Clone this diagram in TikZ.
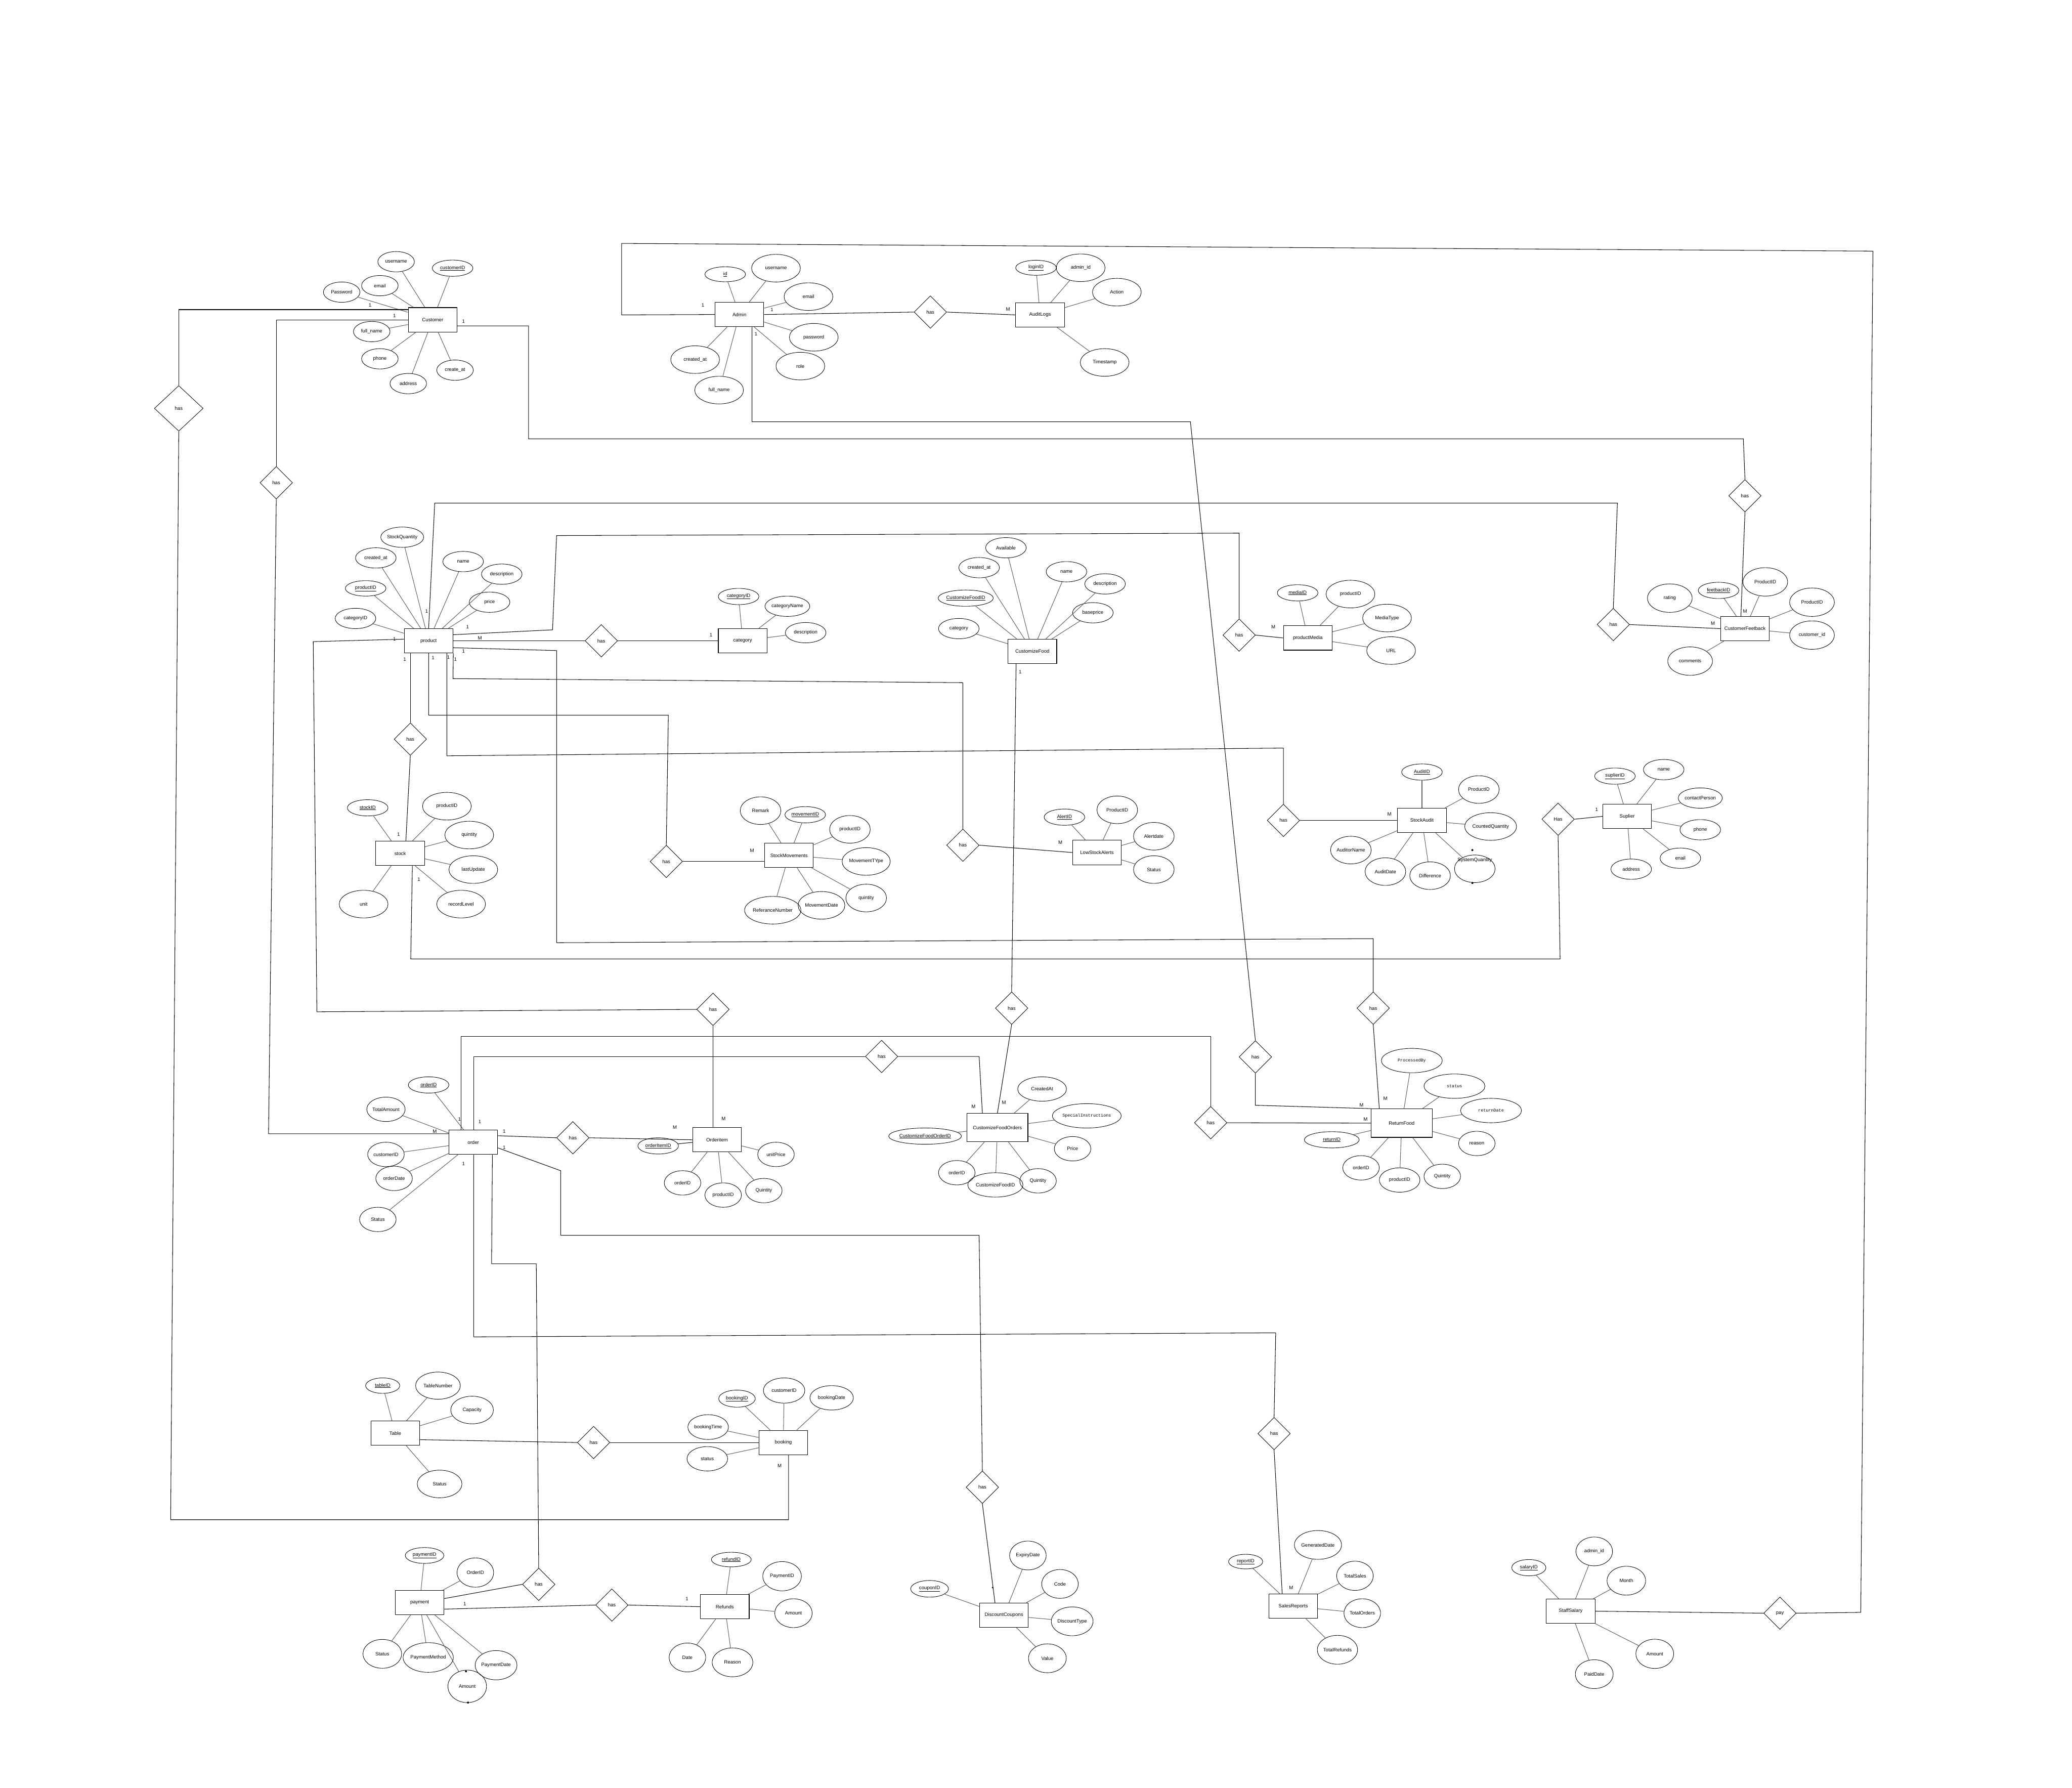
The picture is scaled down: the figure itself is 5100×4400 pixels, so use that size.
\documentclass[tikz,border=0pt]{standalone}
\usepackage{fontspec}
\setmainfont{Liberation Sans}
\newfontfamily\ermonofam{Liberation Mono}
\usetikzlibrary{shapes.geometric}
\newcommand{\erfont}{\fontsize{12}{14}\selectfont}
\newcommand{\ermono}{\ermonofam\fontsize{10.5}{12}\selectfont}

\begin{document}
\begin{tikzpicture}[x=1pt, y=-1pt,
  ent/.style={rectangle, draw, line width=1.4pt, minimum width=120pt, minimum height=60pt,
              inner sep=0pt, font=\erfont},
  att/.style={ellipse, draw, line width=1.1pt, minimum width=90pt, minimum height=50pt,
              inner sep=0pt, font=\erfont},
  key/.style={att, minimum width=100pt, minimum height=40pt},
  mid/.style={att, minimum width=100pt, minimum height=50pt},
  big/.style={att, minimum width=120pt, minimum height=68pt},
  tall/.style={att, minimum width=100pt, minimum height=68pt},
  rnd/.style={att, minimum width=90pt, minimum height=60pt},
  mono/.style={att, minimum width=150pt, minimum height=60pt, font=\ermono},
  rel/.style={diamond, draw, line width=1.1pt, minimum width=80pt, minimum height=80pt,
              inner sep=0pt, font=\erfont},
  lk/.style={-, line width=1.3pt, gray!75!black},
  cn/.style={-, line width=1.3pt, black},
  card/.style={inner sep=0pt, font=\erfont}]

\fill[white] (0,0) rectangle (5100,4400);
\useasboundingbox (0,0) rectangle (5100,4400);

%% Customer
\node[ent] (cust) at (1065,787) {Customer};
\node[att] (cuUser)  at (975,644)  {username};
\node[key] (cuId)    at (1114,660) {\underline{customerID}};
\node[att] (cuMail)  at (935,703)  {email};
\node[att] (cuPass)  at (841,719)  {Password};
\node[att] (cuName)  at (915,816)  {full\_name};
\node[att] (cuPhone) at (935,883)  {phone};
\node[att] (cuAddr)  at (1005,944) {address};
\node[att] (cuCre)   at (1120,911) {create\_at};
\draw[lk] (cuUser)--(cust); \draw[lk] (cuId)--(cust); \draw[lk] (cuMail)--(cust);
\draw[lk] (cuPass)--(cust); \draw[lk] (cuName)--(cust); \draw[lk] (cuPhone)--(cust);
\draw[lk] (cuAddr)--(cust); \draw[lk] (cuCre)--(cust);

%% Admin
\node[ent] (admin) at (1820,774) {Admin};
\node[key, minimum height=37pt] (adId) at (1785,675) {\underline{id}};
\node[big] (adUser) at (1910,660) {username};
\node[big] (adMail) at (1990,730) {email};
\node[big] (adPass) at (2003,830) {password};
\node[big] (adRole) at (1970,901) {role};
\node[big] (adCre)  at (1711,885) {created\_at};
\node[big] (adName) at (1770,960) {full\_name};
\draw[lk] (adId)--(admin); \draw[lk] (adUser)--(admin); \draw[lk] (adMail)--(admin);
\draw[lk] (adPass)--(admin); \draw[lk] (adRole)--(admin); \draw[lk] (adCre)--(admin);
\draw[lk] (adName)--(admin);

%% AuditLogs
\node[ent] (audit) at (2560,775) {AuditLogs};
\node[key, minimum height=37pt] (auId) at (2550,659) {\underline{loginID}};
\node[big] (auAdm)  at (2660,659) {admin\_id};
\node[big] (auAct)  at (2749,719) {Action};
\node[big] (auTime) at (2719,892) {Timestamp};
\draw[lk] (auId)--(audit); \draw[lk] (auAdm)--(audit); \draw[lk] (auAct)--(audit);
\draw[lk] (auTime)--(audit);

%% product
\node[ent] (prod) at (1055,1577) {product};
\node[mid] (prQty)   at (990,1322)  {StockQuantity};
\node[mid] (prCre)   at (925,1373)  {created\_at};
\node[mid] (prName)  at (1140,1382) {name};
\node[mid] (prDesc)  at (1235,1413) {description};
\node[key, minimum height=38pt] (prId) at (900,1448) {\underline{productID}};
\node[mid] (prPrice) at (1205,1482) {price};
\node[mid] (prCat)   at (875,1522)  {categoryID};
\draw[lk] (prQty)--(prod); \draw[lk] (prCre)--(prod); \draw[lk] (prName)--(prod);
\draw[lk] (prDesc)--(prod); \draw[lk] (prId)--(prod); \draw[lk] (prPrice)--(prod);
\draw[lk] (prCat)--(prod);

%% category
\node[ent] (cat) at (1828,1577) {category};
\node[key] (caId)   at (1818,1468) {\underline{categoryID}};
\node[mid] (caName) at (1938,1492) {categoryName};
\node[mid] (caDesc) at (1983,1557) {description};
\draw[lk] (caId)--(cat); \draw[lk] (caName)--(cat); \draw[lk] (caDesc)--(cat);

%% CustomizeFood
\node[ent] (cfood) at (2541,1603) {CustomizeFood};
\node[mid] (cfAvail) at (2476,1348) {Available};
\node[mid] (cfCre)   at (2410,1397) {created\_at};
\node[mid] (cfName)  at (2625,1407) {name};
\node[mid] (cfDesc)  at (2720,1437) {description};
\node[key, minimum width=116pt] (cfId) at (2377,1472) {\underline{CustomizeFoodID}};
\node[mid] (cfPrice) at (2690,1508) {baseprice};
\node[mid] (cfCat)   at (2360,1547) {category};
\draw[lk] (cfAvail)--(cfood); \draw[lk] (cfCre)--(cfood); \draw[lk] (cfName)--(cfood);
\draw[lk] (cfDesc)--(cfood); \draw[lk] (cfId)--(cfood); \draw[lk] (cfPrice)--(cfood);
\draw[lk] (cfCat)--(cfood);

%% productMedia
\node[ent] (media) at (3219,1570) {productMedia};
\node[key] (meId)   at (3194,1459) {\underline{mediaID}};
\node[big] (mePid)  at (3324,1462) {productID};
\node[big] (meType) at (3414,1521) {MediaType};
\node[big] (meUrl)  at (3424,1601) {URL};
\draw[lk] (meId)--(media); \draw[lk] (mePid)--(media); \draw[lk] (meType)--(media);
\draw[lk] (meUrl)--(media);

%% CustomerFeetback
\node[ent] (fback) at (4295,1547) {CustomerFeetback};
\node[att, minimum width=110pt, minimum height=70pt] (fbRate) at (4110,1472) {rating};
\node[key] (fbId) at (4230,1453) {\underline{feetbackID}};
\node[att, minimum width=110pt, minimum height=70pt] (fbPid)  at (4345,1432) {ProductID};
\node[att, minimum width=110pt, minimum height=70pt] (fbPidb) at (4460,1482) {ProductID};
\node[att, minimum width=110pt, minimum height=70pt] (fbCust) at (4460,1563) {customer\_id};
\node[att, minimum width=110pt, minimum height=70pt] (fbCom)  at (4160,1627) {comments};
\draw[lk] (fbRate)--(fback); \draw[lk] (fbId)--(fback); \draw[lk] (fbPid)--(fback);
\draw[lk] (fbPidb)--(fback); \draw[lk] (fbCust)--(fback); \draw[lk] (fbCom)--(fback);

%% stock
\node[ent] (stock) at (985,2100) {stock};
\node[key] (stId)  at (905,1988)  {\underline{stockID}};
\node[big] (stPid) at (1100,1984) {productID};
\node[big] (stQty) at (1155,2055) {quintity};
\node[big] (stUpd) at (1165,2140) {lastUpdate};
\node[big] (stRec) at (1135,2225) {recordLevel};
\node[big] (stUnit) at (895,2225) {unit};
\draw[lk] (stId)--(stock); \draw[lk] (stPid)--(stock); \draw[lk] (stQty)--(stock);
\draw[lk] (stUpd)--(stock); \draw[lk] (stRec)--(stock); \draw[lk] (stUnit)--(stock);

%% StockMovements
\node[ent] (smove) at (1942,2105) {StockMovements};
\node[tall] (smRem)  at (1872,1995) {Remark};
\node[key]  (smId)   at (1982,2005) {\underline{movementID}};
\node[tall] (smPid)  at (2092,2041) {productID};
\node[tall] (smType) at (2132,2120) {MovementTYpe};
\node[tall] (smQty)  at (2132,2210) {quintity};
\node[tall] (smDate) at (2022,2228) {MovementDate};
\node[big]  (smRef)  at (1902,2240) {ReferanceNumber};
\draw[lk] (smRem)--(smove); \draw[lk] (smId)--(smove); \draw[lk] (smPid)--(smove);
\draw[lk] (smType)--(smove); \draw[lk] (smQty)--(smove); \draw[lk] (smDate)--(smove);
\draw[lk] (smRef)--(smove);

%% LowStockAlerts
\node[ent] (lowst) at (2700,2098) {LowStockAlerts};
\node[key]  (lsId)   at (2620,2011) {\underline{AlertID}};
\node[tall] (lsPid)  at (2750,1993) {ProductID};
\node[tall] (lsDate) at (2840,2058) {Alertdate};
\node[tall] (lsStat) at (2840,2140) {Status};
\draw[lk] (lsId)--(lowst); \draw[lk] (lsPid)--(lowst); \draw[lk] (lsDate)--(lowst);
\draw[lk] (lsStat)--(lowst);

%% StockAudit
\node[ent] (saudit) at (3500,2019) {StockAudit};
\node[key]  (sdId)   at (3500,1900) {\underline{AuditID}};
\node[tall] (sdPid)  at (3640,1943) {ProductID};
\node[tall] (sdCnt)  at (3669,2034) {CountedQuantity};
\node[tall, label={[font=\erfont, yshift=21pt]center:SystemQuantity}] (sdSys) at (3630,2138) {};
\node[tall] (sdDiff) at (3520,2155) {Difference};
\node[tall] (sdDate) at (3410,2145) {AuditDate};
\node[tall] (sdName) at (3325,2092) {AuditorName};
\fill (3624,2092) circle[radius=2.5pt] (3624,2173) circle[radius=2.5pt];
\draw[lk] (sdId)--(saudit); \draw[lk] (sdPid)--(saudit); \draw[lk] (sdCnt)--(saudit);
\draw[lk] (sdSys)--(saudit); \draw[lk] (sdDiff)--(saudit); \draw[lk] (sdDate)--(saudit);
\draw[lk] (sdName)--(saudit);

%% Suplier
\node[ent] (supl) at (4005,2009) {Suplier};
\node[key] (suId)    at (3975,1910) {\underline{suplierID}};
\node[mid] (suName)  at (4095,1894) {name};
\node[mid] (suCont)  at (4185,1964) {contactPerson};
\node[mid] (suPhone) at (4185,2042) {phone};
\node[mid] (suMail)  at (4136,2112) {enail};
\node[mid] (suAddr)  at (4015,2139) {address};
\draw[lk] (suId)--(supl); \draw[lk] (suName)--(supl); \draw[lk] (suCont)--(supl);
\draw[lk] (suPhone)--(supl); \draw[lk] (suMail)--(supl); \draw[lk] (suAddr)--(supl);

%% order
\node[ent] (ord) at (1165,2811) {order};
\node[key] (orId)   at (1055,2670) {\underline{orderID}};
\node[rnd] (orTot)  at (950,2730)  {TotalAmount};
\node[rnd] (orCust) at (950,2841)  {customerID};
\node[rnd] (orDate) at (970,2900)  {orderDate};
\node[rnd] (orStat) at (930,3001)  {Status};
\draw[lk] (orId)--(ord); \draw[lk] (orTot)--(ord); \draw[lk] (orCust)--(ord);
\draw[lk] (orDate)--(ord); \draw[lk] (orStat)--(ord);

%% Orderitem
\node[ent] (oitem) at (1765,2805) {Orderitem};
\node[key] (oiId)    at (1620,2820) {\underline{orderItemID}};
\node[rnd] (oiPrice) at (1910,2841) {unitPrice};
\node[rnd] (oiOid)   at (1680,2911) {orderID};
\node[rnd] (oiPid)   at (1780,2941) {productID};
\node[rnd] (oiQty)   at (1880,2930) {Quintity};
\draw[cn] (oiId)--(oitem); \draw[lk] (oiPrice)--(oitem); \draw[lk] (oiOid)--(oitem);
\draw[lk] (oiPid)--(oitem); \draw[lk] (oiQty)--(oitem);

%% CustomizeFoodOrders
\node[ent, minimum width=150pt, minimum height=70pt] (cfo) at (2455,2775) {CustomizeFoodOrders};
\node[att, minimum width=120pt, minimum height=60pt] (coCre) at (2565,2680) {CreatedAt};
\node[mono] (coSpec)  at (2675,2746) {SpecialInstructions};
\node[rnd]  (coPrice) at (2640,2827) {Price};
\node[rnd]  (coQty)   at (2555,2906) {Quintity};
\node[att, minimum width=100pt, minimum height=60pt] (coCf) at (2450,2916) {CustomizeFoodID};
\node[rnd]  (coOid)   at (2355,2886) {orderID};
\node[key, minimum width=133pt] (coId) at (2277,2796) {\underline{CustomizeFoodOrderID}};
\draw[lk] (coCre)--(cfo); \draw[lk] (coSpec)--(cfo); \draw[lk] (coPrice)--(cfo);
\draw[lk] (coQty)--(cfo); \draw[lk] (coCf)--(cfo); \draw[lk] (coOid)--(cfo);
\draw[lk] (coId)--(cfo);

%% ReturnFood
\node[ent, minimum width=150pt, minimum height=70pt] (retf) at (3450,2764) {ReturnFood};
\node[mono] (rfProc) at (3475,2610) {ProcessedBy};
\node[mono] (rfStat) at (3580,2673) {status};
\node[mono] (rfDate) at (3670,2733) {returnDate};
\node[rnd]  (rfReas) at (3635,2814) {reason};
\node[rnd]  (rfQty)  at (3550,2895) {Quintity};
\node[att, minimum width=100pt, minimum height=60pt] (rfPid) at (3445,2904) {productID};
\node[rnd]  (rfOid)  at (3350,2874) {orderID};
\node[key, minimum width=135pt] (rfId) at (3278,2805) {\underline{returnID}};
\draw[lk] (rfProc)--(retf); \draw[lk] (rfStat)--(retf); \draw[lk] (rfDate)--(retf);
\draw[lk] (rfReas)--(retf); \draw[lk] (rfQty)--(retf); \draw[lk] (rfPid)--(retf);
\draw[lk] (rfOid)--(retf); \draw[lk] (rfId)--(retf);

%% Table
\node[ent] (tbl) at (973,3527) {Table};
\node[key, minimum width=84pt, minimum height=38pt] (tbId) at (942,3410) {\underline{tableID}};
\node[att, minimum width=110pt, minimum height=67pt] (tbNum)  at (1078,3410) {TableNumber};
\node[att, minimum width=105pt, minimum height=68pt] (tbCap)  at (1162,3470) {Capacity};
\node[att, minimum width=110pt, minimum height=68pt] (tbStat) at (1082,3652) {Status};
\draw[lk] (tbId)--(tbl); \draw[lk] (tbNum)--(tbl); \draw[lk] (tbCap)--(tbl);
\draw[lk] (tbStat)--(tbl);

%% booking
\node[ent] (book) at (1928,3550) {booking};
\node[key, minimum width=90pt, minimum height=42pt] (bkId) at (1814,3442) {\underline{bookingID}};
\node[att, minimum width=102pt, minimum height=62pt] (bkCust) at (1930,3422) {customerID};
\node[att, minimum width=107pt, minimum height=60pt] (bkDate) at (2047,3440) {bookingDate};
\node[att, minimum width=100pt, minimum height=61pt] (bkTime) at (1743,3512) {bookingTime};
\node[att, minimum width=100pt, minimum height=60pt] (bkStat) at (1741,3590) {status};
\draw[lk] (bkId)--(book); \draw[lk] (bkCust)--(book); \draw[lk] (bkDate)--(book);
\draw[lk] (bkTime)--(book); \draw[lk] (bkStat)--(book);

%% payment
\node[ent] (paym) at (1033,3944) {payment};
\node[key, minimum width=95pt, minimum height=39pt] (pmId) at (1045,3828) {\underline{paymentID}};
\node[att, minimum width=90pt, minimum height=72pt]  (pmOid)  at (1170,3870) {OrderID};
\node[att, minimum width=95pt, minimum height=71pt]  (pmStat) at (941,4070)  {Status};
\node[att, minimum width=100pt, minimum height=73pt] (pmMeth) at (1054,4079) {PaymentMethod};
\node[att, minimum width=98pt, minimum height=72pt]  (pmDate) at (1221,4098) {PaymentDate};
\node[att, minimum width=95pt, minimum height=80pt]  (pmAmt)  at (1150,4150) {Amount};
\fill (1147,4113) circle[radius=2.5pt] (1152,4190) circle[radius=2.5pt];
\draw[lk] (pmId)--(paym); \draw[lk] (pmOid)--(paym); \draw[lk] (pmStat)--(paym);
\draw[lk] (pmMeth)--(paym); \draw[lk] (pmDate)--(paym); \draw[lk] (pmAmt)--(paym);

%% Refunds
\node[ent] (refd) at (1784,3954) {Refunds};
\node[key, minimum width=98pt, minimum height=36pt] (rdId) at (1800,3838) {\underline{refundID}};
\node[att, minimum width=95pt, minimum height=72pt]  (rdPid)  at (1925,3879) {PaymentID};
\node[att, minimum width=92pt, minimum height=71pt]  (rdAmt)  at (1953,3970) {Amount};
\node[att, minimum width=90pt, minimum height=71pt]  (rdDate) at (1692,4079) {Date};
\node[att, minimum width=100pt, minimum height=71pt] (rdReas) at (1803,4091) {Reason};
\draw[lk] (rdId)--(refd); \draw[lk] (rdPid)--(refd); \draw[lk] (rdAmt)--(refd);
\draw[lk] (rdDate)--(refd); \draw[lk] (rdReas)--(refd);

%% DiscountCoupons
\node[ent] (disc) at (2471,3975) {DiscountCoupons};
\node[key, minimum width=93pt, minimum height=41pt] (dcId) at (2288,3910) {\underline{couponID}};
\node[att, minimum width=90pt, minimum height=71pt] (dcExp)  at (2530,3828) {ExpiryDate};
\node[att, minimum width=90pt, minimum height=71pt] (dcCode) at (2609,3898) {Code};
\node[att, minimum width=90pt, minimum height=71pt] (dcType) at (2639,3990) {DiscountType};
\node[att, minimum width=93pt, minimum height=71pt] (dcVal)  at (2578,4081) {Value};
\fill (2443,3907) circle[radius=2pt];
\draw[lk] (dcId)--(disc); \draw[lk] (dcExp)--(disc); \draw[lk] (dcCode)--(disc);
\draw[lk] (dcType)--(disc); \draw[lk] (dcVal)--(disc);

%% SalesReports
\node[ent] (sales) at (3183,3953) {SalesReports};
\node[key, minimum width=84pt, minimum height=36pt] (srId) at (3066,3843) {\underline{reportID}};
\node[att, minimum width=95pt, minimum height=71pt] (srGen) at (3244,3802) {GeneratedDate};
\node[att, minimum width=90pt, minimum height=72pt] (srTs)  at (3335,3878) {TotalSales};
\node[att, minimum width=90pt, minimum height=71pt] (srTo)  at (3353,3970) {TotalOrders};
\node[att, minimum width=93pt, minimum height=71pt] (srTr)  at (3292,4060) {TotalRefunds};
\draw[lk] (srId)--(sales); \draw[lk] (srGen)--(sales); \draw[lk] (srTs)--(sales);
\draw[lk] (srTo)--(sales); \draw[lk] (srTr)--(sales);

%% StaffSalary
\node[ent] (salary) at (3866,3965) {StaffSalary};
\node[key, minimum width=84pt, minimum height=40pt] (ssId) at (3763,3858) {\underline{salaryID}};
\node[att, minimum width=90pt, minimum height=71pt] (ssAdm)  at (3924,3818) {admin\_id};
\node[att, minimum width=95pt, minimum height=71pt] (ssMon)  at (4003,3890) {Month};
\node[att, minimum width=93pt, minimum height=72pt] (ssAmt)  at (4073,4070) {Amount};
\node[att, minimum width=93pt, minimum height=71pt] (ssPaid) at (3924,4120) {PaidDate};
\draw[lk] (ssId)--(salary); \draw[lk] (ssAdm)--(salary); \draw[lk] (ssMon)--(salary);
\draw[lk] (ssAmt)--(salary); \draw[lk] (ssPaid)--(salary);

%% relationships
\node[rel, minimum width=120pt, minimum height=112pt] (hasCB) at (440,1005) {has};
\node[rel] (hasCO)  at (680,1188)  {has};
\node[rel] (hasCF)  at (4295,1220) {has};
\node[rel] (hasAA)  at (2290,768)  {has};
\node[rel] (hasAR)  at (3090,2601) {has};
\node[rel] (hasPay) at (4381,3970) {pay};
\node[rel] (hasPC)  at (1480,1577) {has};
\node[rel] (hasPM)  at (3050,1563) {has};
\node[rel] (hasPF)  at (3971,1537) {has};
\node[rel] (hasPO)  at (1755,2484) {has};
\node[rel] (hasPS)  at (1010,1819) {has};
\node[rel] (hasPSM) at (1640,2120) {has};
\node[rel] (hasPL)  at (2370,2080) {has};
\node[rel] (hasPA)  at (3159,2019) {has};
\node[rel] (hasPR)  at (3380,2481) {has};
\node[rel] (hasCFO) at (2490,2481) {has};
\node[rel] (hasSS)  at (3835,2016) {Has};
\node[rel] (hasOR)  at (2980,2763) {has};
\node[rel] (hasOC)  at (2170,2600) {has};
\node[rel] (hasOI)  at (1410,2800) {has};
\node[rel] (hasOD)  at (2418,3660) {has};
\node[rel] (hasOS)  at (3136,3528) {has};
\node[rel] (hasOP)  at (1326,3899) {has};
\node[rel] (hasTB)  at (1461,3550) {has};
\node[rel] (hasPRf) at (1506,3950) {has};

%% connectors
\draw[cn] (cust.west |- 0,762) -| (hasCB.north);
\draw[cn] (hasCB.south) -- (420,3740) -- (1941,3740) -- (book.south -| 1941,0);
\draw[cn] (cust.west) -| (hasCO.north);
\draw[cn] (hasCO.south) -- (661,2790) -- (ord.west |- 0,2790);
\draw[cn] (cust.east |- 0,802) -- (1301,802) -- (1301,1080) -- (4291,1080) -- (hasCF.north);
\draw[cn] (hasCF.south) -- (fback.north -| 4285,0);
\draw[cn] (admin.west) -- (1530,775) -- (1530,599) -- (4610,618) -- (4580,3968) -- (hasPay.east);
\draw[cn] (hasPay.west) -- (salary.east);
\draw[cn] (admin.east) -- (hasAA.west); \draw[cn] (hasAA.east) -- (audit.west);
\draw[cn] (admin.south -| 1851,0) -- (1851,1038) -- (2930,1038) -- (hasAR.north);
\draw[cn] (hasAR.south) -- (3090,2720) -- (retf.north west);
\draw[cn] (prod.east) -- (hasPC.west); \draw[cn] (hasPC.east) -- (cat.west);
\draw[cn] (prod.north) -- (1070,1238) -- (3981,1238) -- (hasPF.north);
\draw[cn] (hasPF.east) -- (fback.west);
\draw[cn] (prod.east |- 0,1562) -- (1360,1550) -- (1370,1318) -- (3050,1312) -- (hasPM.north);
\draw[cn] (hasPM.east) -- (media.west);
\draw[cn] (prod.west |- 0,1573) -- (771,1579) -- (780,2490) -- (hasPO.west);
\draw[cn] (hasPO.south) -- (oitem.north -| 1755,0);
\draw[cn] (prod.east |- 0,1594) -- (1370,1601) -- (1370,2320) -- (3380,2310) -- (hasPR.north);
\draw[cn] (hasPR.south) -- (retf.north -| 3395,0);
\draw[cn] (prod.south -| 1010,0) -- (hasPS.north);
\draw[cn] (hasPS.south) -- (stock.north -| 999,0);
\draw[cn] (prod.south) -- (1055,1760) -- (1645,1760) -- (hasPSM.north);
\draw[cn] (hasPSM.east) -- (smove.west |- hasPSM.east);
\draw[cn] (prod.south -| 1100,0) -- (1100,1860) -- (3159,1841) -- (hasPA.north);
\draw[cn] (hasPA.east) -- (saudit.west);
\draw[cn] (prod.south east) -- (1115,1670) -- (2370,1680) -- (hasPL.north);
\draw[cn] (hasPL.east) -- (lowst.west);
\draw[cn] (cfood.south -| 2501,0) -- (hasCFO.north);
\draw[cn] (hasCFO.south) -- (cfo.north);
\draw[cn] (stock.south -| 1015,0) -- (1011,2360) -- (3840,2360) -- (hasSS.south);
\draw[cn] (hasSS.east) -- (supl.west);
\draw[cn] (ord.north -| 1135,0) -- (1135,2551) -- (2980,2551) -- (hasOR.north);
\draw[cn] (hasOR.east) -- (retf.west);
\draw[cn] (ord.north -| 1166,0) -- (1166,2600) -- (hasOC.west);
\draw[cn] (hasOC.east) -- (2410,2600) -- (cfo.north -| 2418,0);
\draw[cn] (ord.east |- 0,2795) -- (hasOI.west); \draw[cn] (hasOI.east) -- (oitem.west);
\draw[cn] (ord.east |- 0,2825) -- (1380,2881) -- (1380,3040) -- (2410,3040) -- (hasOD.north);
\draw[cn] (hasOD.south) -- (disc.north -| 2449,0);
\draw[cn] (ord.south -| 1166,0) -- (1166,3290) -- (3140,3280) -- (hasOS.north);
\draw[cn] (hasOS.south) -- (sales.north -| 3156,0);
\draw[cn] (ord.south -| 1212,0) -- (1210,3110) -- (1320,3110) -- (hasOP.north);
\draw[cn] (hasOP.west) -- (paym.east |- 0,3934);
\draw[cn] (tbl.east |- 0,3543) -- (hasTB.west); \draw[cn] (hasTB.east) -- (book.west);
\draw[cn] (paym.east |- 0,3960) -- (hasPRf.west); \draw[cn] (hasPRf.east) -- (refd.west);

%% cardinalities
\node[card] (k1)  at (911,751)   {1};
\node[card] (k2)  at (971,777)   {1};
\node[card] (k3)  at (1141,791)  {1};
\node[card] (k4)  at (4295,1504) {M};
\node[card] (k5)  at (1730,751)  {1};
\node[card] (k6)  at (1900,762)  {1};
\node[card] (k7)  at (2481,761)  {M};
\node[card] (k8)  at (1861,822)  {1};
\node[card] (k9)  at (971,1573)  {1};
\node[card] (k10) at (1050,1504) {1};
\node[card] (k11) at (1151,1543) {1};
\node[card] (k12) at (1181,1570) {M};
\node[card] (k13) at (1141,1603) {1};
\node[card] (k14) at (996,1622)  {1};
\node[card] (k15) at (1066,1619) {1};
\node[card] (k16) at (1104,1617) {1};
\node[card] (k17) at (1121,1622) {1};
\node[card] (k18) at (1750,1563) {1};
\node[card] (k19) at (3134,1543) {M};
\node[card] (k20) at (4216,1534) {M};
\node[card] (k21) at (2511,1654) {1};
\node[card] (k22) at (981,2054)  {1};
\node[card] (k23) at (1031,2164) {1};
\node[card] (k24) at (3930,1993) {1};
\node[card] (k25) at (1851,2093) {M};
\node[card] (k26) at (2610,2073) {M};
\node[card] (k27) at (3420,2004) {M};
\node[card] (k28) at (1781,2753) {M};
\node[card] (k29) at (1661,2774) {M};
\node[card] (k30) at (2471,2713) {M};
\node[card] (k31) at (2396,2723) {M};
\node[card] (k32) at (3410,2703) {M};
\node[card] (k33) at (3351,2719) {M};
\node[card] (k34) at (3361,2754) {M};
\node[card] (k35) at (1070,2784) {M};
\node[card] (k36) at (1131,2754) {1};
\node[card] (k37) at (1181,2761) {1};
\node[card] (k38) at (1241,2784) {1};
\node[card] (k39) at (1241,2824) {1};
\node[card] (k40) at (1141,2864) {1};
\node[card] (k41) at (1919,3607) {M};
\node[card] (k42) at (1144,3947) {1};
\node[card] (k43) at (1691,3935) {1};
\node[card] (k44) at (3178,3907) {M};
\end{tikzpicture}
\end{document}
